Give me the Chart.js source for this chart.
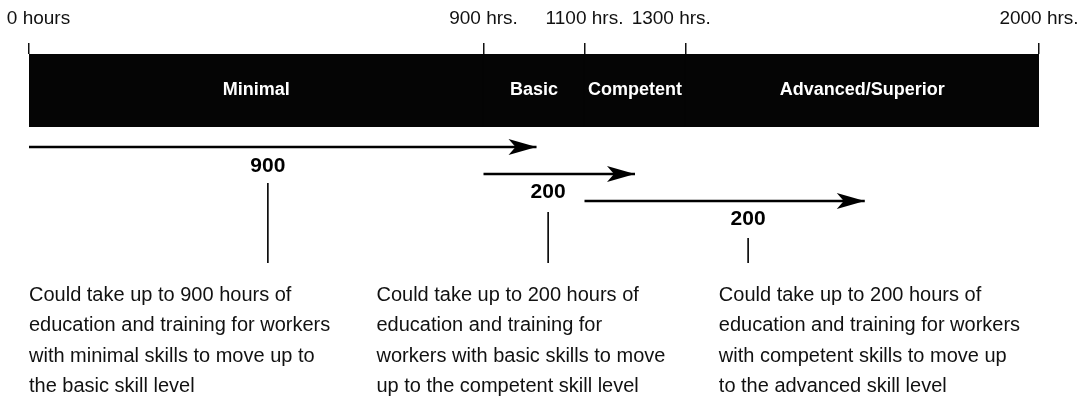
<!DOCTYPE html>
<html>
<head>
<meta charset="utf-8">
<script src="https://cdn.jsdelivr.net/npm/chart.js@4.4.1/dist/chart.umd.min.js"></script>
<style>
  html, body { margin: 0; padding: 0; background: #fff; }
  #wrap { width: 1079px; height: 408px; }
</style>
</head>
<body>
<div id="wrap"><canvas id="skillChart" width="1079" height="408"></canvas></div>
<script>
// hours along the top of the timeline
const tickHours = [0, 900, 1100, 1300, 2000];
const tickLabels = ['0 hours', '900 hrs.', '1100 hrs.', '1300 hrs.', '2000 hrs.'];

// skill levels in the black band
const levelNames = ['Minimal', 'Basic', 'Competent', 'Advanced/Superior'];
const levelStart = [0, 900, 1100, 1300];
const levelEnd = [900, 1100, 1300, 2000];

// the three "move up" arrows
const stepFrom = [0, 900, 1100];
const stepTo = [1005, 1200, 1655];
const stepAmount = ['900', '200', '200'];
const stepLabelAt = [473, 1028, 1424];

// notes under each arrow
const noteAt = [0, 688, 1366];
const notes = [
  ['Could take up to 900 hours of', 'education and training for workers', 'with minimal skills to move up to', 'the basic skill level'],
  ['Could take up to 200 hours of', 'education and training for', 'workers with basic skills to move', 'up to the competent skill level'],
  ['Could take up to 200 hours of', 'education and training for workers', 'with competent skills to move up', 'to the advanced skill level']
];

// vertical layout (y scale runs 0..354 down the plot area)
const ROW = {
  band: 36,
  arrows: [93, 120, 147],
  labels: [112, 138, 165],
  stemTop: [129, 158, 184],
  stemBottom: 209,
  noteTop: 241,
  noteStep: 30.5
};

const FONT = "'Liberation Sans', Arial, sans-serif";
Chart.defaults.font.family = FONT;

const datasets = [{
  type: 'bar',
  indexAxis: 'y',
  data: levelNames.map((n, i) => ({ y: ROW.band, x: [levelStart[i], levelEnd[i]] })),
  backgroundColor: '#050505',
  borderColor: '#050505',
  borderWidth: 1,
  borderSkipped: false,
  inflateAmount: 1,
  barThickness: 72
}];

stepFrom.forEach((f, i) => {
  datasets.push({
    type: 'line',
    indexAxis: 'x',
    data: [{ x: f, y: ROW.arrows[i] }, { x: stepTo[i], y: ROW.arrows[i] }],
    borderColor: '#000',
    borderWidth: 2.3,
    pointRadius: 0
  });
});

stepLabelAt.forEach((h, i) => {
  datasets.push({
    type: 'line',
    indexAxis: 'x',
    data: [{ x: h, y: ROW.stemTop[i] }, { x: h, y: ROW.stemBottom }],
    borderColor: '#000',
    borderWidth: 1.6,
    pointRadius: 0
  });
});

// arrowheads + all the text
const labelPlugin = {
  id: 'skillLabels',
  afterDatasetsDraw(chart) {
    const ctx = chart.ctx;
    const xs = chart.scales.x, ys = chart.scales.y;
    ctx.save();

    // arrowheads on the ends of the step lines
    for (let i = 0; i < stepFrom.length; i++) {
      const pt = chart.getDatasetMeta(1 + i).data[1];
      const x = pt.x, y = pt.y;
      ctx.fillStyle = '#000';
      ctx.beginPath();
      ctx.moveTo(x, y);
      ctx.lineTo(x - 28, y - 8);
      ctx.lineTo(x - 21, y);
      ctx.lineTo(x - 28, y + 8);
      ctx.closePath();
      ctx.fill();
    }

    // level names inside the band
    ctx.fillStyle = '#fff';
    ctx.font = 'bold 18px ' + FONT;
    ctx.textAlign = 'center';
    ctx.textBaseline = 'middle';
    levelNames.forEach((n, i) => {
      const mid = (levelStart[i] + levelEnd[i]) / 2;
      ctx.fillText(n, xs.getPixelForValue(mid), ys.getPixelForValue(ROW.band));
    });

    // hour amounts under each arrow
    ctx.fillStyle = '#000';
    ctx.font = 'bold 21px ' + FONT;
    stepAmount.forEach((s, i) => {
      ctx.fillText(s, xs.getPixelForValue(stepLabelAt[i]), ys.getPixelForValue(ROW.labels[i]));
    });

    // notes
    ctx.fillStyle = '#111';
    ctx.font = '20px ' + FONT;
    ctx.textAlign = 'left';
    notes.forEach((lines, i) => {
      lines.forEach((t, j) => {
        ctx.fillText(t, xs.getPixelForValue(noteAt[i]), ys.getPixelForValue(ROW.noteTop + j * ROW.noteStep));
      });
    });

    ctx.restore();
  }
};

// nudge the end labels the way the printed figure sets them
function tickText(v) {
  const i = tickHours.indexOf(v);
  if (i === 0) return '\u2003' + tickLabels[i];
  if (i === 3) return tickLabels[i] + '\u2003\u2002';
  return tickLabels[i];
}

new Chart(document.getElementById('skillChart'), {
  type: 'bar',
  data: { datasets: datasets },
  options: {
    responsive: false,
    animation: false,
    events: [],
    indexAxis: 'y',
    layout: { padding: { left: 29, right: 40, top: 0, bottom: 0 } },
    plugins: { legend: { display: false }, tooltip: { enabled: false } },
    scales: {
      x: {
        type: 'linear',
        position: 'top',
        min: 0,
        max: 2000,
        offset: false,
        afterBuildTicks: s => { s.ticks = tickHours.map(v => ({ value: v })); },
        afterFit: s => { s.height = 54; s.paddingLeft = 0; s.paddingRight = 0; },
        ticks: {
          autoSkip: false,
          maxRotation: 0,
          padding: 13,
          color: '#111',
          font: { size: 19 },
          callback: tickText
        },
        grid: { drawOnChartArea: false, drawTicks: true, tickLength: 11, color: '#111', lineWidth: 1.5 },
        border: { display: false }
      },
      y: {
        type: 'linear',
        display: false,
        reverse: true,
        min: 0,
        max: 354,
        offset: false
      }
    }
  },
  plugins: [labelPlugin]
});
</script>
</body>
</html>
